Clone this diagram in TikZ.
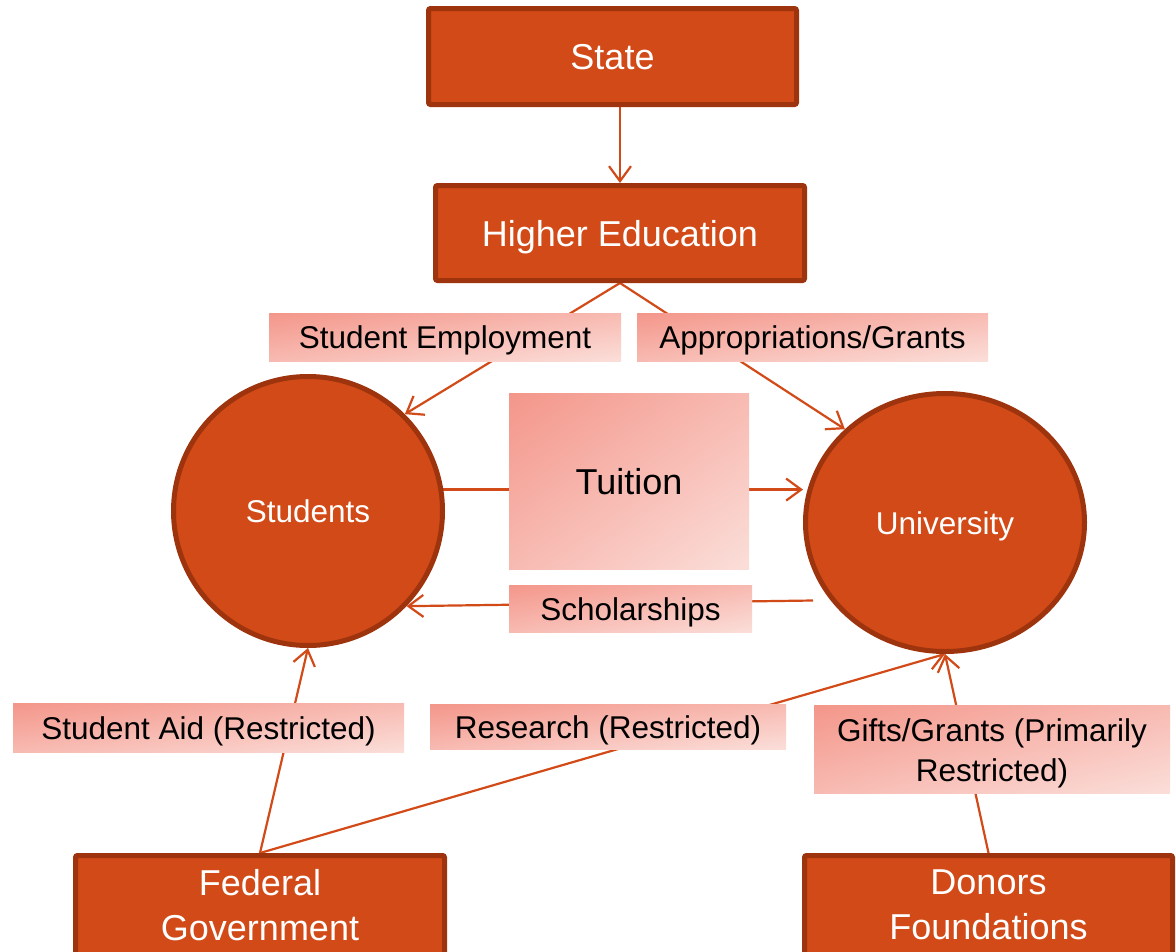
\documentclass[tikz,border=0pt]{standalone}
\usepackage{fontspec}
\setmainfont{Liberation Sans}
\usetikzlibrary{arrows.meta,shapes.geometric,backgrounds,calc}
\definecolor{orfill}{HTML}{D14A17}
\definecolor{orborder}{HTML}{9E340E}
% diagonal gradient: #F4968A at top-left to #FBDED9 at bottom-right, stretched with the box
\pgfdeclarefunctionalshading{lblshade}{\pgfpoint{0bp}{0bp}}{\pgfpoint{100bp}{100bp}}{}{
 exch 25 sub exch 75 exch sub add 100 div
 dup 0 lt {pop 0} if dup 1 gt {pop 1} if
 dup 0.027 mul 0.957 add exch dup 0.283 mul 0.588 add exch 0.310 mul 0.541 add
}
\begin{document}
\begin{tikzpicture}[x=1pt,y=-1pt,
  bigbox/.style={draw=orborder, fill=orfill, line width=5pt, rounded corners=2pt,
    text=white, font=\fontsize{36}{45}\selectfont, inner sep=0pt},
  onebig/.style={bigbox, text height=26pt, text depth=0pt},
  roundnode/.style={draw=orborder, fill=orfill, line width=5pt, text=white,
    font=\fontsize{31.5}{40}\selectfont, inner sep=0pt, text height=23pt, text depth=0pt},
  lbl/.style={shade, shading=lblshade, shading angle=0, draw=none,
    inner sep=0pt, text=black, font=\fontsize{31.5}{40}\selectfont},
  onelbl/.style={lbl, text height=23pt, text depth=0pt},
  flow/.style={draw=orfill, line width=2.2pt, -{Straight Barb[length=15pt,width=22pt]}}
]
\useasboundingbox (0,0) rectangle (1176,951);
\clip (0,0) rectangle (1176,951);

% main boxes
\node[onebig, minimum width=368pt, minimum height=96pt] (state) at (612.5,56.5) {State};
\node[onebig, minimum width=369pt, minimum height=95pt] (he) at (620,233) {Higher Education};
\node[bigbox, align=center, minimum width=369pt, minimum height=99pt] (fed) at (260,905) {Federal\\Government};
\node[bigbox, align=center, minimum width=368pt, minimum height=99pt] (don) at (988.5,905) {Donors\\Foundations};

% circles
\node[roundnode, circle, minimum size=269pt] (stu) at (308,511) {Students};
\node[roundnode, ellipse, minimum width=279pt, minimum height=258pt] (un) at (945,522.5) {University};

% labels
\node[onelbl, minimum width=352pt, minimum height=48pt] (lse) at (445,337) {Student Employment};
\node[onelbl, minimum width=351pt, minimum height=48pt] (lap) at (812.5,337) {Appropriations/Grants};
\node[onelbl, minimum width=240pt, minimum height=176pt, font=\fontsize{36}{45}\selectfont, text height=26pt] (ltu) at (629,481) {Tuition};
\node[onelbl, minimum width=243pt, minimum height=47pt] (lsc) at (630.5,608.5) {Scholarships};
\node[onelbl, minimum width=391pt, minimum height=49pt] (lsa) at (208.5,727.5) {Student Aid (Restricted)};
\node[onelbl, minimum width=356pt, minimum height=45pt] (lre) at (608,726.5) {Research (Restricted)};
\node[lbl, align=center, minimum width=356pt, minimum height=88pt] (lgg) at (992,749) {\rule{0pt}{31pt}Gifts/Grants (Primarily\\Restricted)};

% connectors
\begin{pgfonlayer}{background}
\draw[flow] (state.south -| he.north) -- (he.north);
\draw[flow] (he.south) -- (stu.45);
\draw[flow] (he.south) -- (un.137);
\draw[flow] (stu.9.4) -- (stu.9.4 -| un.west);
\draw[flow] ($(un.west)+(10,78)$) -- (stu.-44.5);
\draw[flow] (fed.north) -- (stu.south);
\draw[flow] (fed.north) -- (un.south);
\draw[flow] (don.north) -- (un.south);
\end{pgfonlayer}
\end{tikzpicture}
\end{document}
